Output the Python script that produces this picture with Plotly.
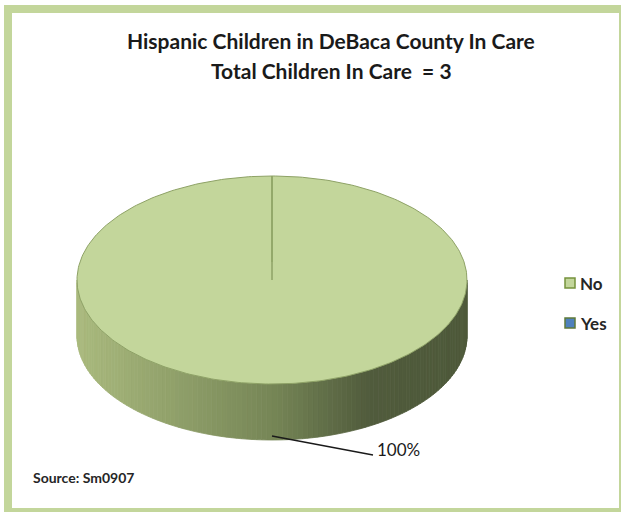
import numpy as np
import plotly.graph_objects as go

# ---- data ----
labels = ["No", "Yes"]
values = [3, 0]
slice_colors = ["#c3d69b", "#4f81bd"]
legend_borders = ["#76923c", "#5f7a3a"]
title_lines = ["Hispanic Children in DeBaca County In Care", "Total Children In Care  = 3"]
source_text = "Source: Sm0907"

# ---- geometry / style ----
W, H = 621, 512
cx, cy, rx, ry, depth = 272, 280, 195, 104, 56
persp_center_dy = -18
FONT = "Lato"

total = sum(values)
fracs = [v / total for v in values]

# side gradient stops (position across pie width -> colour)
grad_pos = [0.0, 0.5, 0.75, 1.0]
grad_rgb = np.array([[170, 186, 126], [118, 134, 86], [80, 91, 60], [78, 89, 58]])


def grad_color(t):
    r = [np.interp(t, grad_pos, grad_rgb[:, k]) for k in range(3)]
    return "rgb(%d,%d,%d)" % tuple(int(round(v)) for v in r)


def pt(theta, dy=0.0):
    return cx + rx * np.sin(theta), cy - ry * np.cos(theta) + dy


fig = go.Figure()

# ---- side walls ----
start = 0.0
for frac, col in zip(fracs, slice_colors):
    a0, a1 = start * 2 * np.pi, (start + frac) * 2 * np.pi
    start += frac
    if frac == 0:
        continue
    lo, hi = max(a0, np.pi / 2), min(a1, 3 * np.pi / 2)
    if hi <= lo:
        continue
    n = 120
    edges = np.linspace(lo, hi, n + 1)
    for i in range(n):
        t = np.linspace(edges[i], edges[i + 1], 4)
        xt, yt = pt(t)
        xb, yb = pt(t[::-1], depth)
        xs = np.concatenate([xt, xb, xt[:1]])
        ys = np.concatenate([yt, yb, yt[:1]])
        xm = pt((edges[i] + edges[i + 1]) / 2)[0]
        c = grad_color((xm - (cx - rx)) / (2 * rx))
        fig.add_trace(go.Scatter(x=xs, y=ys, mode="lines", fill="toself",
                                 fillcolor=c, line=dict(color=c, width=0.8),
                                 hoverinfo="skip", showlegend=False))

# ---- top faces ----
start = 0.0
for frac, col in zip(fracs, slice_colors):
    a0, a1 = start * 2 * np.pi, (start + frac) * 2 * np.pi
    start += frac
    if frac == 0:
        continue
    t = np.linspace(a0, a1, 361)
    xa, ya = pt(t)
    xs = np.concatenate([[cx], xa, [cx]])
    ys = np.concatenate([[cy], ya, [cy]])
    fig.add_trace(go.Scatter(x=xs, y=ys, mode="lines", fill="toself",
                             fillcolor=col, line=dict(color="#8ea266", width=1),
                             hoverinfo="skip", showlegend=False))
    # radial boundary lines
    for a in sorted(set([a0 % (2 * np.pi), a1 % (2 * np.pi)])):
        ex, ey = pt(a)
        fig.add_trace(go.Scatter(x=[ex, cx], y=[ey, cy + persp_center_dy], mode="lines",
                                 line=dict(color="#8fa466", width=1.2),
                                 hoverinfo="skip", showlegend=False))

# ---- data label with leader line ----
start = 0.0
for frac in fracs:
    mid = (start + frac / 2) * 2 * np.pi
    start += frac
    if frac == 0:
        continue
    sx, sy = pt(mid, depth - 4)
    lx, ly = sx + 101, sy + 19
    fig.add_trace(go.Scatter(x=[sx, lx], y=[sy, ly], mode="lines",
                             line=dict(color="#1a1a1a", width=1.3),
                             hoverinfo="skip", showlegend=False))
    fig.add_annotation(x=lx + 2, y=ly - 6, text="%d%%" % round(frac * 100),
                       showarrow=False, xanchor="left", yanchor="middle",
                       font=dict(family=FONT, size=17, color="#1a1a1a"))

# ---- legend (manual) ----
leg_x, leg_y0, leg_dy = 570, 283, 40
for i, (lab, col, bc) in enumerate(zip(labels, slice_colors, legend_borders)):
    y = leg_y0 + i * leg_dy
    fig.add_trace(go.Scatter(x=[leg_x], y=[y], mode="markers",
                             marker=dict(symbol="square", size=10, color=col,
                                         line=dict(color=bc, width=1.5)),
                             hoverinfo="skip", showlegend=False))
    fig.add_annotation(x=leg_x + 8, y=y, text="<b>%s</b>" % lab, showarrow=False,
                       xanchor="left", yanchor="middle",
                       font=dict(family=FONT, size=17, color="#262626"))

# ---- title ----
for i, line in enumerate(title_lines):
    fig.add_annotation(x=331, y=40 + i * 30, text="<b>%s</b>" % line, showarrow=False,
                       xanchor="center", yanchor="middle",
                       font=dict(family=FONT, size=21, color="#1a1a1a"))

# ---- source ----
fig.add_annotation(x=31, y=477, text="<b>%s</b>" % source_text, showarrow=False,
                   xanchor="left", yanchor="middle",
                   font=dict(family=FONT, size=14, color="#262626"))

# ---- frame border ----
fig.add_shape(type="rect", x0=8, y0=9, x1=623, y1=512, xref="x", yref="y",
              line=dict(color="#c3d69b", width=8), fillcolor="rgba(0,0,0,0)", layer="above")

fig.update_layout(
    width=W, height=H, margin=dict(l=0, r=0, t=0, b=0),
    paper_bgcolor="white", plot_bgcolor="white",
    xaxis=dict(range=[0, W], visible=False, fixedrange=True),
    yaxis=dict(range=[H, 0], visible=False, fixedrange=True),
    showlegend=False,
)

fig.write_html("out.html", config={"displayModeBar": False},
               post_script="document.body.style.margin='0';document.body.style.overflow='hidden';")
